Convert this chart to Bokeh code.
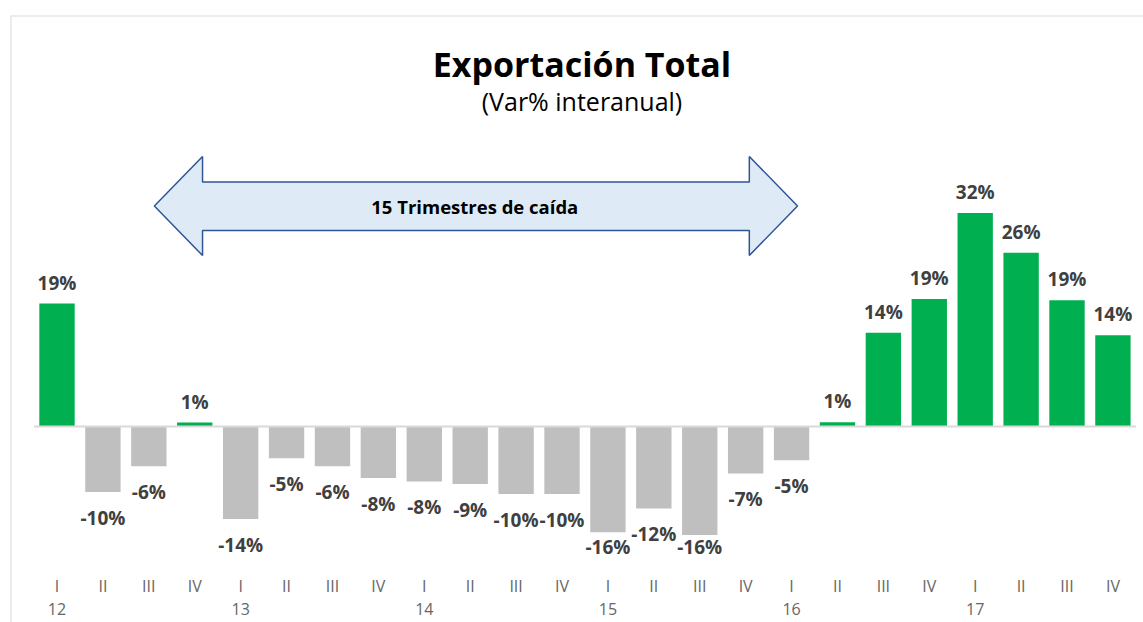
from bokeh.plotting import figure
from bokeh.models import ColumnDataSource, Span
from bokeh.core.properties import value
from bokeh.embed import file_html
from bokeh.resources import INLINE

# ---- data ----
quarters = ["I", "II", "III", "IV"] * 6
years = ["12", "13", "14", "15", "16", "17"]
values = [18.6, -9.9, -6.0, 0.6, -14.0, -4.8, -6.0, -7.8, -8.3, -8.7, -10.2, -10.2,
          -16.0, -12.4, -16.4, -7.1, -5.1, 0.65, 14.2, 19.3, 32.3, 26.3, 19.1, 13.8]
title = "Exportación Total"
subtitle = "(Var% interanual)"
arrow_text = "15 Trimestres de caída"

GREEN = "#00B050"
GREY = "#BFBFBF"
FONT = "Open Sans"

n = len(values)
xs = list(range(n))
colors = [GREEN if v >= 0 else GREY for v in values]
labels = [f"{round(v)}%" for v in values]

X0, X1 = -1.013, 23.666
Y0, Y1 = -29.65, 62.18
PX_PER_UNIT = 6.61           # vertical scale, used only for label spacing
NEG_GAP = 26 / PX_PER_UNIT   # label distance below negative bars
LABEL_FLOOR = -18.3          # labels kept inside the plot area (as in the source chart)

p = figure(width=1143, height=622, x_range=(X0, X1), y_range=(Y0, Y1),
           min_border_left=10, min_border_top=15, min_border_right=0, min_border_bottom=0,
           x_axis_location=None, y_axis_location=None,
           toolbar_location=None, output_backend="svg", outline_line_color=None)
p.grid.visible = False
p.background_fill_color = "white"
p.border_fill_color = "white"

# chart-area border (left and top visible)
p.add_layout(Span(location=X0, dimension="height", line_color="#D9D9D9", line_width=2))
p.add_layout(Span(location=Y1, dimension="width", line_color="#D9D9D9", line_width=2))

src = ColumnDataSource(dict(x=xs, v=values, c=colors, lab=labels))
p.vbar(x="x", top="v", bottom=0, width=0.77, fill_color="c", line_color=None, source=src)

# zero line
p.segment(x0=[-0.5], y0=[0], x1=[n - 0.5], y1=[0], line_color="#D9D9D9", line_width=2)

pos = ColumnDataSource(dict(x=[x for x, v in zip(xs, values) if v >= 0],
                            y=[v for v in values if v >= 0],
                            t=[l for l, v in zip(labels, values) if v >= 0]))
neg = ColumnDataSource(dict(x=[x for x, v in zip(xs, values) if v < 0],
                            y=[max(v - NEG_GAP, LABEL_FLOOR) for v in values if v < 0],
                            t=[l for l, v in zip(labels, values) if v < 0]))
for s, off in ((pos, -21), (neg, 0)):
    p.text(x="x", y="y", text="t", source=s, text_align="center", text_baseline="middle",
           y_offset=off, text_font=value(FONT), text_font_style="bold",
           text_font_size="19px", text_color="#404040")

# category axis labels
p.text(x=xs, y=[Y0] * n, text=quarters, text_align="center", text_baseline="middle",
       y_offset=-37, text_font=value(FONT), text_font_size="16px", text_color="#666666")
p.text(x=xs[::4], y=[Y0] * len(years), text=years, text_align="center", text_baseline="middle",
       y_offset=-13.5, text_font=value(FONT), text_font_size="16px", text_color="#666666")

# titles
p.text(x=[11.435], y=[54.81], text=[title], text_align="center", text_baseline="middle",
       text_font=value(FONT), text_font_style="bold", text_font_size="34px", text_color="black")
p.text(x=[11.435], y=[49.17], text=[subtitle], text_align="center", text_baseline="middle",
       text_font=value(FONT), text_font_size="25px", text_color="black")

# double arrow annotation
ax = [2.12, 3.17, 3.17, 15.08, 15.08, 16.13, 15.08, 15.08, 3.17, 3.17]
ay = [33.36, 40.85, 36.99, 36.99, 40.85, 33.36, 25.87, 29.65, 29.65, 25.87]
p.patch(ax, ay, fill_color="#DEEBF7", line_color="#2F5597", line_width=1.5)
p.text(x=[9.1], y=[33.36], text=[arrow_text], text_align="center", text_baseline="middle",
       text_font=value(FONT), text_font_style="bold", text_font_size="18.5px", text_color="black")

open("out.html", "w").write(file_html(p, INLINE))
